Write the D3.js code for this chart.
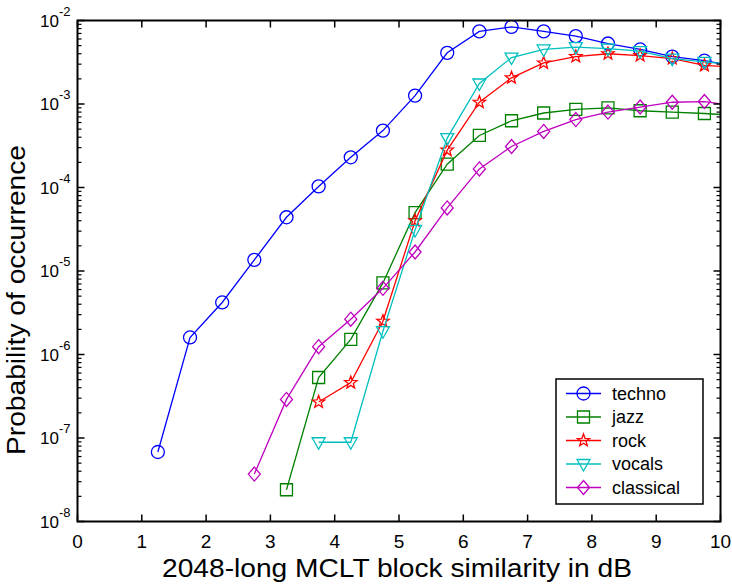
<!DOCTYPE html>
<html>
<head>
<meta charset="utf-8">
<script src="https://d3js.org/d3.v7.min.js"></script>
<style>
	body { margin: 0; background: white; }
	svg { font-family: "Liberation Sans", Arial, sans-serif; }
</style>
</head>
<body>
<svg width="732" height="587"></svg>
<script>
// block similarity in dB (last point lies past the axis and gets clipped)
const xs = [1.25, 1.75, 2.25, 2.75, 3.25, 3.75, 4.25, 4.75, 5.25, 5.75, 6.25, 6.75, 7.25, 7.75, 8.25, 8.75, 9.25, 9.75, 10.25];

const techno = [6.8e-8, 1.6e-6, 4.2e-6, 1.36e-5, 4.4e-5, 1.03e-4, 2.3e-4, 4.8e-4, 1.26e-3, 4.1e-3, 7.4e-3, 8.4e-3, 7.4e-3, 6.5e-3, 5.3e-3, 4.5e-3, 3.7e-3, 3.3e-3, 2.8e-3];
const jazz = [null, null, null, null, 2.4e-8, 5.3e-7, 1.52e-6, 7.2e-6, 5.0e-5, 1.9e-4, 4.2e-4, 6.3e-4, 7.8e-4, 8.6e-4, 9.0e-4, 8.3e-4, 8.0e-4, 7.7e-4, 7.3e-4];
const rock = [null, null, null, null, null, 2.7e-7, 4.6e-7, 2.5e-6, 4.0e-5, 2.8e-4, 1.05e-3, 2.06e-3, 3.1e-3, 3.7e-3, 4.0e-3, 3.8e-3, 3.5e-3, 2.9e-3, 2.75e-3];
const vocals = [null, null, null, null, null, 8.9e-8, 8.9e-8, 1.9e-6, 3.1e-5, 3.9e-4, 1.76e-3, 3.6e-3, 4.5e-3, 4.8e-3, 4.6e-3, 4.3e-3, 3.5e-3, 3.2e-3, 2.95e-3];
const classical = [null, null, null, 3.7e-8, 2.9e-7, 1.24e-6, 2.65e-6, 6.2e-6, 1.69e-5, 5.7e-5, 1.67e-4, 3.1e-4, 4.7e-4, 6.5e-4, 8.0e-4, 9.2e-4, 1.05e-3, 1.07e-3, 9.4e-4];

const seriesNames = ["techno", "jazz", "rock", "vocals", "classical"];
const seriesValues = [techno, jazz, rock, vocals, classical];
const seriesColors = ["#0000ff", "#008000", "#ff0000", "#00bfbf", "#bf00bf"];
const seriesMarkers = ["circle", "square", "star", "triangle", "diamond"];

const xTicks = [0, 1, 2, 3, 4, 5, 6, 7, 8, 9, 10];
const yDecades = [-8, -7, -6, -5, -4, -3, -2];

const svg = d3.select("svg");

const x = d3.scaleLinear().domain([0, 10]).range([77.5, 720.5]);
const y = d3.scaleLog().domain([1e-8, 1e-2]).range([521.5, 20.5]);

const plotLeft = x.range()[0], plotRight = x.range()[1];
const plotTop = y.range()[1], plotBottom = y.range()[0];

// markers, drawn hollow around (0,0)
function markerPath(type) {
	if (type == "circle") return d3.symbol(d3.symbolCircle, 133)();
	if (type == "square") {
		return "M-6,-6L6,-6L6,6L-6,6Z";
	}
	if (type == "triangle") {
		return "M-6.5,-4.5L6.5,-4.5L0,7Z";
	}
	if (type == "diamond") {
		return "M0,-7L6,0L0,7L-6,0Z";
	}
	// five pointed star
	let pts = [];
	for (let i = 0; i < 10; i++) {
		let r = i % 2 == 0 ? 6.5 : 2.7;
		let a = -Math.PI / 2 + i * Math.PI / 5;
		pts.push([r * Math.cos(a), r * Math.sin(a)]);
	}
	return "M" + pts.map(p => p[0].toFixed(2) + "," + p[1].toFixed(2)).join("L") + "Z";
}

svg.append("clipPath").attr("id", "plotclip")
	.append("rect")
	.attr("x", plotLeft).attr("y", plotTop)
	.attr("width", plotRight - plotLeft).attr("height", plotBottom - plotTop);

const plot = svg.append("g").attr("clip-path", "url(#plotclip)");

const line = d3.line()
	.defined(d => d.v != null)
	.x(d => x(d.x))
	.y(d => y(d.v));

seriesValues.forEach((vals, i) => {
	let pts = xs.map((xv, j) => ({x: xv, v: vals[j]}));
	plot.append("path")
		.attr("d", line(pts))
		.attr("fill", "none")
		.attr("stroke", seriesColors[i])
		.attr("stroke-width", 1.3);
	plot.selectAll(null)
		.data(pts.filter(d => d.v != null))
		.enter().append("path")
		.attr("d", markerPath(seriesMarkers[i]))
		.attr("transform", d => "translate(" + x(d.x) + "," + y(d.v) + ")")
		.attr("fill", "none")
		.attr("stroke", seriesColors[i])
		.attr("stroke-width", 1.3);
});

// axes box
const axes = svg.append("g");
axes.append("rect")
	.attr("x", plotLeft).attr("y", plotTop)
	.attr("width", plotRight - plotLeft).attr("height", plotBottom - plotTop)
	.attr("fill", "none")
	.attr("stroke", "black")
	.attr("stroke-width", 2);

// x ticks, inward on top and bottom
xTicks.forEach(t => {
	axes.append("line")
		.attr("x1", x(t)).attr("x2", x(t))
		.attr("y1", plotBottom).attr("y2", plotBottom - 7)
		.attr("stroke", "black").attr("stroke-width", 1.5);
	axes.append("line")
		.attr("x1", x(t)).attr("x2", x(t))
		.attr("y1", plotTop).attr("y2", plotTop + 7)
		.attr("stroke", "black").attr("stroke-width", 1.5);
	axes.append("text")
		.attr("x", x(t)).attr("y", plotBottom + 26)
		.attr("text-anchor", "middle")
		.attr("font-size", 19)
		.text(t);
});

// y ticks, log decades with minor ticks on both sides
yDecades.forEach(d => {
	let v = Math.pow(10, d);
	[plotLeft, plotRight].forEach(side => {
		let dir = side == plotLeft ? 1 : -1;
		axes.append("line")
			.attr("x1", side).attr("x2", side + dir * 7)
			.attr("y1", y(v)).attr("y2", y(v))
			.attr("stroke", "black").attr("stroke-width", 1.5);
		if (d < -2) {
			for (let m = 2; m <= 9; m++) {
				axes.append("line")
					.attr("x1", side).attr("x2", side + dir * 4)
					.attr("y1", y(m * v)).attr("y2", y(m * v))
					.attr("stroke", "black").attr("stroke-width", 1.2);
			}
		}
	});
	let lab = axes.append("text")
		.attr("x", plotLeft - 7).attr("y", y(v) + 6)
		.attr("text-anchor", "end")
		.attr("font-size", 17);
	lab.append("tspan").text("10");
	lab.append("tspan")
		.attr("dy", -11)
		.attr("font-size", 13)
		.text(d);
});

// axis titles (the original font runs wider, so stretch to its width)
svg.append("text")
	.attr("x", 397).attr("y", 577)
	.attr("text-anchor", "middle")
	.attr("font-size", 25)
	.attr("textLength", 470)
	.attr("lengthAdjust", "spacingAndGlyphs")
	.text("2048-long MCLT block similarity in dB");

svg.append("text")
	.attr("transform", "translate(25,300) rotate(-90)")
	.attr("text-anchor", "middle")
	.attr("font-size", 25)
	.attr("textLength", 310)
	.attr("lengthAdjust", "spacingAndGlyphs")
	.text("Probability of occurrence");

// legend
const legend = svg.append("g");
legend.append("rect")
	.attr("x", 556).attr("y", 379)
	.attr("width", 147).attr("height", 125)
	.attr("fill", "white")
	.attr("stroke", "black")
	.attr("stroke-width", 1.5);

seriesNames.forEach((name, i) => {
	let ly = 393.5 + i * 23.5;
	legend.append("line")
		.attr("x1", 566).attr("x2", 601)
		.attr("y1", ly).attr("y2", ly)
		.attr("stroke", seriesColors[i])
		.attr("stroke-width", 1.3);
	legend.append("path")
		.attr("d", markerPath(seriesMarkers[i]))
		.attr("transform", "translate(583.5," + ly + ")")
		.attr("fill", "none")
		.attr("stroke", seriesColors[i])
		.attr("stroke-width", 1.3);
	legend.append("text")
		.attr("x", 612).attr("y", ly + 6)
		.attr("font-size", 18)
		.text(name);
});
</script>
</body>
</html>
